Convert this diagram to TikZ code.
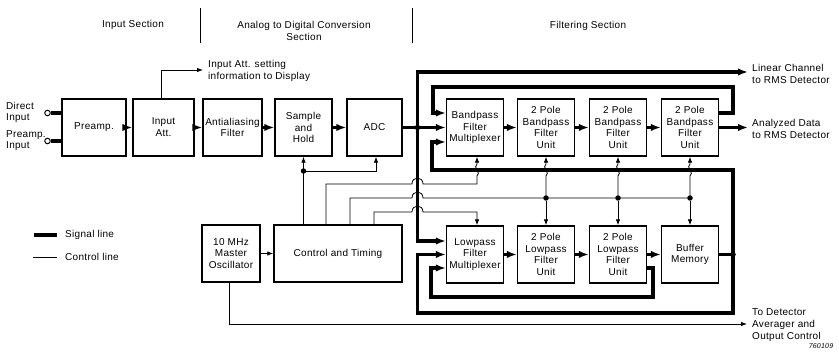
\documentclass[tikz,border=0pt]{standalone}
\usepackage{fontspec}
\setmainfont{Liberation Sans}[LetterSpace=3]
\usetikzlibrary{arrows.meta,calc}
\begin{document}
\begin{tikzpicture}[x=1pt,y=-1pt,
  box/.style={draw,line width=1.4pt,minimum width=57pt,minimum height=57pt,inner sep=1pt,align=center,font=\fontsize{10}{11.8}\selectfont},
  sig/.style={line width=3.3pt},
  sarr/.style={sig,-{Latex[length=10pt,width=7.5pt]}},
  ctl/.style={line width=0.8pt},
  carr/.style={ctl,-{Latex[length=6pt,width=4.5pt]}},
  lbl/.style={align=left,anchor=west,inner sep=0pt,font=\fontsize{10}{12}\selectfont},
  hdr/.style={align=center,inner sep=0pt,font=\fontsize{10}{12}\selectfont},
  dot/.style={circle,fill,inner sep=0pt,minimum size=5.5pt},
  term/.style={circle,draw,line width=1pt,inner sep=0pt,minimum size=5.5pt,fill=white},
]
\useasboundingbox (0,0) rectangle (839,352);

% section headers
\node[hdr] (h1) at (133,25) {Input Section};
\node[hdr] (h2) at (304,30.5) {Analog to Digital Conversion\\Section};
\node[hdr] (h3) at (588,26) {Filtering Section};
\draw[ctl] (200,8) -- (200,43);
\draw[ctl] (412,8) -- (412,43);

% top row
\node[box,minimum width=64pt] (pre) at (94,127.5) {Preamp.};
\node[box,minimum width=61pt] (att) at (163.5,127.5) {Input\\Att.};
\node[box,minimum width=59pt] (aa) at (232.5,127.5) {Antialiasing\\Filter};
\node[box] (sh) at (303.5,127.5) {Sample\\and\\Hold};
\node[box,minimum width=55pt] (adc) at (374.5,127.5) {ADC};
\node[box] (bpm) at (475,127.5) {Bandpass\\Filter\\Multiplexer};
\node[box] (bp1) at (546,127.5) {2 Pole\\Bandpass\\Filter\\Unit};
\node[box] (bp2) at (618,127.5) {2 Pole\\Bandpass\\Filter\\Unit};
\node[box] (bp3) at (690,127.5) {2 Pole\\Bandpass\\Filter\\Unit};

% lower row
\node[box] (lpm) at (475,254.5) {Lowpass\\Filter\\Multiplexer};
\node[box] (lp1) at (546,254.5) {2 Pole\\Lowpass\\Filter\\Unit};
\node[box] (lp2) at (618,254.5) {2 Pole\\Lowpass\\Filter\\Unit};
\node[box] (buf) at (690,254.5) {Buffer\\Memory};
\node[box,minimum width=58pt] (osc) at (231,253.5) {10 MHz\\Master\\Oscillator};
\node[box,minimum width=128pt] (ct) at (338,253.5) {Control and Timing};

% inputs
\node[term] (din) at (47.5,113) {};
\node[term] (pin) at (47.5,141) {};
\node[lbl,font=\fontsize{10}{11}\selectfont] (tdin) at (6,112.5) {Direct\\Input};
\node[lbl,font=\fontsize{10}{11}\selectfont] (tpin) at (6,140.5) {Preamp.\\Input};
\draw[sig] (din) -- (din -| pre.west);
\draw[sig] (pin) -- (pin -| pre.west);

% signal chain
\draw[sarr] (pre) -- (att);
\draw[sarr] (att) -- (aa);
\draw[sarr] (aa) -- (sh);
\draw[sarr] (sh) -- (adc);
\draw[sarr] (adc) -- (bpm);
\draw[sarr] (bpm) -- (bp1);
\draw[sarr] (bp1) -- (bp2);
\draw[sarr] (bp2) -- (bp3);
\draw[sarr] (lpm) -- (lp1);
\draw[sarr] (lp1) -- (lp2);
\draw[sarr] (lp2) -- (buf);

\coordinate (J) at (417.5,127.5);
\node[dot] (jd) at (J) {};
\coordinate (lin) at (748,72);
\draw[sarr] (J) |- (lin);
\node[lbl] (tlin) at (752,73.5) {Linear Channel\\to RMS Detector};
\draw[sarr] (J) |- ([yshift=13.5pt]lpm.west);

% bandpass feedback
\draw[sarr] ([yshift=14.5pt]bp3.east) -| (733,87) -| (433,113) -- ([yshift=14.5pt]bpm.west);
\coordinate (ana) at (748,127.5);
\draw[sarr] (bp3) -- (ana);
\node[lbl] (tana) at (752,128.5) {Analyzed Data\\to RMS Detector};

% buffer bus
\coordinate (B) at (733,254.5);
\draw[sig] (buf) -- (B);
\node[dot] (bd) at (B) {};
\draw[sarr] (B) |- (432,170) |- ([yshift=-14.5pt]bpm.west);
\draw[sarr] (B) |- (417.5,313) |- (lpm.west);
% lowpass inner loop
\draw[sarr] ([yshift=-13.5pt]lp2.east) -| (653,297) -| (431,268) -- ([yshift=-13.5pt]lpm.west);

% control lines
\draw[carr] ([xshift=-2.5pt]att.north) |- (203,70);
\node[lbl] (tatt) at (208,70.5) {Input Att. setting\\information to Display};
\draw[carr] (osc) -- (ct);
\coordinate (det) at (747,324);
\draw[carr] ([xshift=-2pt]osc.south) |- (det);
\node[lbl] (tdet) at (752,325) {To Detector\\Averager and\\Output Control};

\coordinate (d0) at (303.5,171);
\draw[ctl] ([xshift=-34.5pt]ct.north) -- (d0);
\node[dot] (d0d) at (d0) {};
\draw[carr] (d0) -- (sh.south);
\draw[carr] (d0) -| ([xshift=1.5pt]adc.south);

\draw[carr] ([xshift=-12pt]ct.north) |- (412,184) .. controls (412,176) and (423,176) .. (423,184)
  -- (477,184) -- (477,176) .. controls (482,173) and (472,167) .. (477,164) -- ([xshift=2pt]bpm.south);

\draw[ctl] ([xshift=12pt]ct.north) |- (412,198) .. controls (412,190) and (423,190) .. (423,198) -- (690,198);
\foreach \x/\u/\l in {546/bp1/lp1,618/bp2/lp2,690/bp3/buf}{
  \node[dot] (c\u) at (\x,198) {};
  \draw[carr] (c\u) -- (\l.north);
  \draw[carr] (c\u) -- (\x,176) .. controls (\x+5,173) and (\x-5,167) .. (\x,164) -- (\u.south);
}

\draw[carr] ([xshift=36pt]ct.north) |- (412,212) .. controls (412,204) and (423,204) .. (423,212) -| ([xshift=2pt]lpm.north);

% legend
\draw[sig] (34,235) -- (57,235);
\node[lbl] (lsig) at (65,235) {Signal line};
\draw[ctl] (33,257) -- (57,257);
\node[lbl] (lctl) at (65,257) {Control line};

\node[inner sep=0pt,font=\fontsize{7}{8}\selectfont\itshape] (code) at (821,346) {760109};
\end{tikzpicture}
\end{document}
